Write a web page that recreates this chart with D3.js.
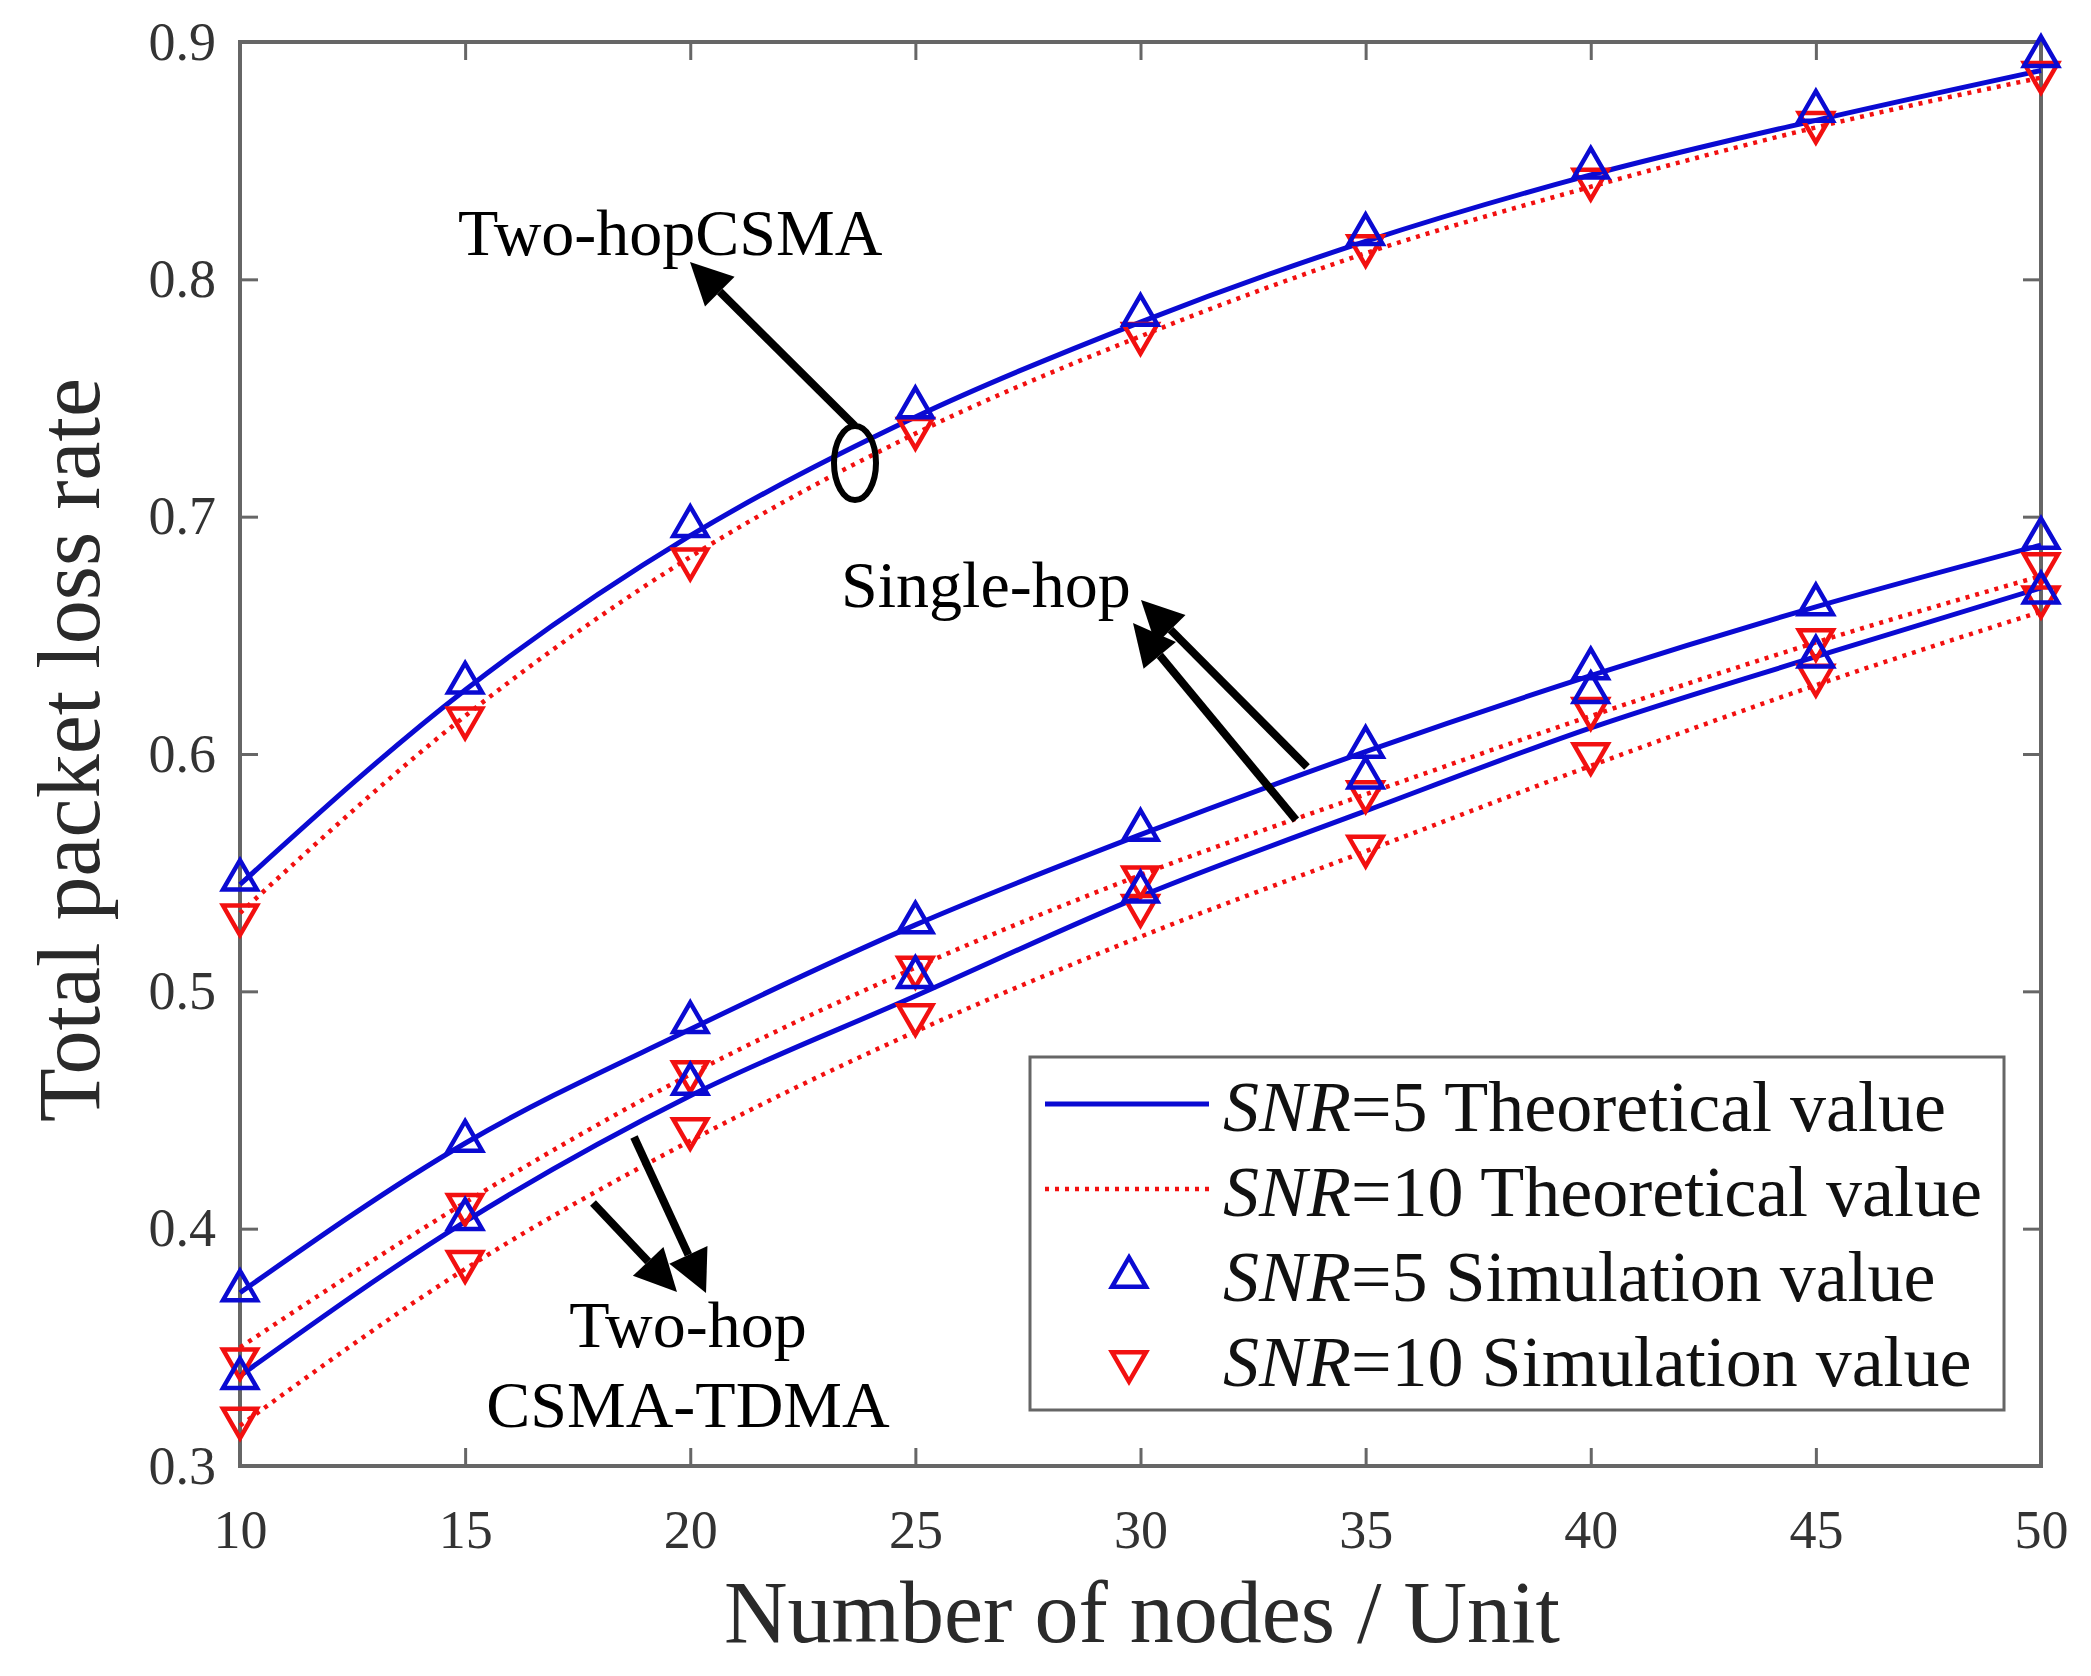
<!DOCTYPE html>
<html lang="en">
<head>
    <meta charset="UTF-8">
    <title>Total packet loss rate</title>
    <style>
        body { margin: 0; background: #fff; }
    </style>
</head>
<body>
    <svg id="svg" width="2091" height="1676"></svg>

    <script src="https://d3js.org/d3.v7.min.js"></script>
    <script>
        // data
        const nodes = [10, 15, 20, 25, 30, 35, 40, 45, 50]
        const xTicks = [10, 15, 20, 25, 30, 35, 40, 45, 50]
        const yTicks = [0.3, 0.4, 0.5, 0.6, 0.7, 0.8, 0.9]

        // Two-hop CSMA
        const csmaTheo5 = [0.545, 0.627, 0.692, 0.742, 0.782, 0.816, 0.844, 0.867, 0.888]
        const csmaTheo10 = [0.533, 0.616, 0.683, 0.735, 0.776, 0.811, 0.839, 0.864, 0.885]
        const csmaSim5 = [0.547, 0.630, 0.696, 0.746, 0.785, 0.819, 0.847, 0.871, 0.894]
        const csmaSim10 = [0.532, 0.615, 0.682, 0.737, 0.777, 0.814, 0.842, 0.866, 0.887]
        // Single-hop
        const singleTheo5 = [0.373, 0.436, 0.484, 0.528, 0.566, 0.601, 0.633, 0.662, 0.688]
        const singleTheo10 = [0.350, 0.411, 0.465, 0.510, 0.549, 0.583, 0.616, 0.647, 0.675]
        const singleSim5 = [0.374, 0.437, 0.487, 0.529, 0.568, 0.603, 0.636, 0.663, 0.691]
        const singleSim10 = [0.345, 0.410, 0.466, 0.510, 0.548, 0.584, 0.619, 0.648, 0.680]
        // Two-hop CSMA-TDMA
        const tdmaTheo5 = [0.338, 0.403, 0.456, 0.498, 0.540, 0.576, 0.611, 0.641, 0.670]
        const tdmaTheo10 = [0.317, 0.383, 0.437, 0.483, 0.523, 0.559, 0.595, 0.629, 0.660]
        const tdmaSim5 = [0.337, 0.404, 0.461, 0.506, 0.542, 0.590, 0.626, 0.641, 0.668]
        const tdmaSim10 = [0.320, 0.386, 0.442, 0.490, 0.536, 0.561, 0.600, 0.633, 0.666]

        const legendLabels = [
            ['SNR', '=5 Theoretical value'],
            ['SNR', '=10 Theoretical value'],
            ['SNR', '=5 Simulation value'],
            ['SNR', '=10 Simulation value']
        ]

        // helpers
        const blue = '#0a0ad2'
        const red = '#f21010'
        const axisGray = '#666'
        const serif = '"Liberation Serif", "Times New Roman", serif'

        const plotL = 240, plotR = 2041, plotT = 42, plotB = 1466
        const xScale = d3.scaleLinear().domain([10, 50]).range([plotL, plotR])
        const yScale = d3.scaleLinear().domain([0.3, 0.9]).range([plotB, plotT])

        const svg = d3.select('#svg')

        // axes (ticks inward, on all four sides)
        const tick = 18
        const styleAxis = g => {
            g.select('.domain').remove()
            g.selectAll('line').attr('stroke', axisGray).attr('stroke-width', 3)
            g.selectAll('text')
                .attr('fill', '#333')
                .style('font-family', serif)
                .style('font-size', '54px')
        }
        svg.append('g')
            .attr('transform', `translate(0,${plotB})`)
            .call(d3.axisBottom(xScale).tickValues(xTicks).tickSize(-tick).tickPadding(44).tickFormat(d3.format('d')))
            .call(styleAxis)
        svg.append('g')
            .attr('transform', `translate(0,${plotT})`)
            .call(d3.axisTop(xScale).tickValues(xTicks).tickSize(-tick).tickFormat(''))
            .call(styleAxis)
        svg.append('g')
            .attr('transform', `translate(${plotL},0)`)
            .call(d3.axisLeft(yScale).tickValues(yTicks).tickSize(-tick).tickPadding(24).tickFormat(d3.format('.1f')))
            .call(styleAxis)
        svg.append('g')
            .attr('transform', `translate(${plotR},0)`)
            .call(d3.axisRight(yScale).tickValues(yTicks).tickSize(-tick).tickFormat(''))
            .call(styleAxis)
        svg.append('rect')
            .attr('x', plotL).attr('y', plotT)
            .attr('width', plotR - plotL).attr('height', plotB - plotT)
            .attr('fill', 'none')
            .attr('stroke', axisGray)
            .attr('stroke-width', 4)

        // axis titles
        svg.append('text')
            .text('Number of nodes / Unit')
            .attr('x', 1142).attr('y', 1642)
            .attr('text-anchor', 'middle')
            .attr('fill', '#2a2a2a')
            .style('font-family', serif)
            .style('font-size', '88px')
        svg.append('text')
            .text('Total packet loss rate')
            .attr('transform', 'translate(99,750) rotate(-90)')
            .attr('text-anchor', 'middle')
            .attr('fill', '#2a2a2a')
            .style('font-family', serif)
            .style('font-size', '88px')

        // lines
        const line = d3.line()
            .x((d, i) => xScale(nodes[i]))
            .y(d => yScale(d))
            .curve(d3.curveMonotoneX)
        const theo5 = [csmaTheo5, singleTheo5, tdmaTheo5]
        const theo10 = [csmaTheo10, singleTheo10, tdmaTheo10]
        const sim5 = [csmaSim5, singleSim5, tdmaSim5]
        const sim10 = [csmaSim10, singleSim10, tdmaSim10]

        svg.append('g').selectAll('path')
            .data(theo10)
            .enter()
            .append('path')
            .attr('d', line)
            .attr('fill', 'none')
            .attr('stroke', red)
            .attr('stroke-width', 4.5)
            .attr('stroke-dasharray', '4,6')
        svg.append('g').selectAll('path')
            .data(theo5)
            .enter()
            .append('path')
            .attr('d', line)
            .attr('fill', 'none')
            .attr('stroke', blue)
            .attr('stroke-width', 5)

        // markers
        const up = d3.symbol().type(d3.symbolTriangle).size(500)
        const drawMarkers = (series, color, flip) => {
            series.forEach(s => {
                svg.append('g').selectAll('path')
                    .data(s)
                    .enter()
                    .append('path')
                    .attr('d', up)
                    .attr('transform', (d, i) => `translate(${xScale(nodes[i])},${yScale(d)})` + (flip ? ' rotate(180)' : ''))
                    .attr('fill', 'none')
                    .attr('stroke', color)
                    .attr('stroke-width', 4.5)
            })
        }
        drawMarkers(sim10, red, true)
        drawMarkers(sim5, blue, false)

        // annotations
        const arrow = (x1, y1, x2, y2) => {
            const ang = Math.atan2(y2 - y1, x2 - x1)
            const headL = 42, headW = 21
            const bx = x2 - Math.cos(ang) * headL
            const by = y2 - Math.sin(ang) * headL
            svg.append('path')
                .attr('d', d3.line()([[x1, y1], [bx, by]]))
                .attr('stroke', '#000')
                .attr('stroke-width', 8)
            const px = -Math.sin(ang) * headW, py = Math.cos(ang) * headW
            svg.append('path')
                .attr('d', d3.line()([[x2, y2], [bx + px, by + py], [bx - px, by - py]]) + 'Z')
                .attr('fill', '#000')
        }
        const note = (txt, x, y, anchor) => {
            svg.append('text')
                .text(txt)
                .attr('x', x).attr('y', y)
                .attr('text-anchor', anchor)
                .attr('fill', '#000')
                .style('font-family', serif)
                .style('font-size', '66px')
        }

        svg.append('ellipse')
            .attr('cx', 855).attr('cy', 463)
            .attr('rx', 21).attr('ry', 37)
            .attr('fill', 'none')
            .attr('stroke', '#000')
            .attr('stroke-width', 6)
        arrow(855, 426, 690, 262)
        note('Two-hopCSMA', 458, 255, 'start')

        arrow(1307, 767, 1141, 600)
        arrow(1296, 820, 1133, 623)
        note('Single-hop', 841, 607, 'start')

        arrow(593, 1203, 677, 1292)
        arrow(634, 1137, 706, 1293)
        note('Two-hop', 688, 1347, 'middle')
        note('CSMA-TDMA', 688, 1427, 'middle')

        // legend
        const legend = svg.append('g')
        legend.append('rect')
            .attr('x', 1030).attr('y', 1057)
            .attr('width', 974).attr('height', 353)
            .attr('fill', '#fff')
            .attr('stroke', axisGray)
            .attr('stroke-width', 3)
        const rows = legend.selectAll('g')
            .data(legendLabels)
            .enter()
            .append('g')
            .attr('transform', (d, i) => `translate(0,${1131 + i * 85})`)
        rows.append('text')
            .attr('x', 1223)
            .attr('fill', '#111')
            .style('font-family', serif)
            .style('font-size', '72px')
            .each(function (d) {
                const t = d3.select(this)
                t.append('tspan').text(d[0]).style('font-style', 'italic')
                t.append('tspan').text(d[1])
            })
        rows.filter((d, i) => i < 2)
            .append('path')
            .attr('d', (d, i) => d3.line()([[1045, -27], [1209, -27]]))
            .attr('stroke', (d, i) => i === 0 ? blue : red)
            .attr('stroke-width', (d, i) => i === 0 ? 5 : 4.5)
            .attr('stroke-dasharray', (d, i) => i === 0 ? null : '4,6')
        rows.filter((d, i) => i >= 2)
            .append('path')
            .attr('d', up)
            .attr('transform', (d, i) => `translate(1129,-24)` + (i === 1 ? ' rotate(180)' : ''))
            .attr('fill', 'none')
            .attr('stroke', (d, i) => i === 0 ? blue : red)
            .attr('stroke-width', 4.5)
    </script>
</body>
</html>
